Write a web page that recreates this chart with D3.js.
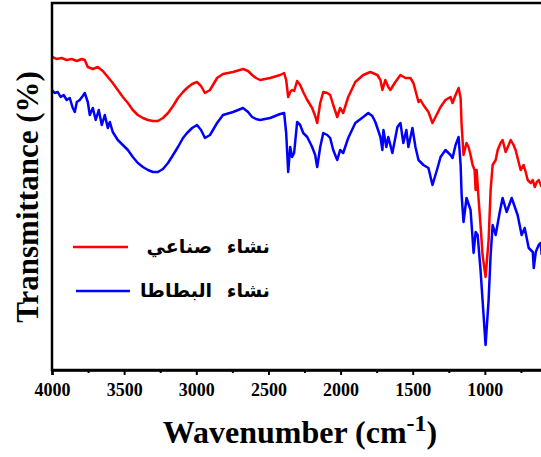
<!DOCTYPE html>
<html>
<head>
<meta charset="utf-8">
<script src="https://cdnjs.cloudflare.com/ajax/libs/d3/7.8.5/d3.min.js"></script>
<style>
  body { margin: 0; background: #fff; }
  svg { display: block; }
</style>
</head>
<body>
<div id="chart"></div>
<script>
///////////////////////////////////////////////////////////////////////////
////////////////////////// FTIR spectra - data ////////////////////////////
///////////////////////////////////////////////////////////////////////////

//Tick values of the wavenumber axis
var majorTicks = [4000, 3500, 3000, 2500, 2000, 1500, 1000],
	minorTicks = [3750, 3250, 2750, 2250, 1750, 1250, 750];

//Legend names (Arabic, as in the figure)
var seriesNames = ["نشاء صناعي", "نشاء البطاطا"];

//Synthetic starch - [wavenumber, transmittance]
var syntheticStarch = [
	[4000,62.6],[3967,62.2],[3933,62.4],[3898,62.0],[3863,62.2],[3828,61.8],[3794,62.2],[3773,62.0],
	[3752,60.6],[3717,60.2],[3683,60.6],[3648,59.8],[3613,58.6],[3579,57.4],[3544,56.0],[3509,54.6],
	[3474,53.4],[3440,52.0],[3405,51.0],[3370,50.4],[3335,50.0],[3300,49.8],[3266,49.8],[3231,50.4],
	[3196,51.4],[3161,52.8],[3127,54.4],[3092,55.6],[3064,56.4],[3029,57.2],[2995,57.6],[2967,56.8],
	[2940,55.4],[2905,56.0],[2856,58.4],[2815,59.2],[2745,59.6],[2676,60.2],[2641,59.8],[2613,59.0],
	[2586,58.4],[2558,58.0],[2523,58.2],[2488,58.4],[2419,59.0],[2391,59.4],[2377,58.0],[2363,54.6],
	[2349,55.6],[2336,56.0],[2322,55.8],[2301,57.8],[2280,57.0],[2259,55.6],[2231,54.0],[2197,52.4],
	[2176,50.8],[2162,49.4],[2141,53.4],[2120,55.6],[2092,55.4],[2072,55.0],[2051,53.0],[2023,50.6],
	[2003,52.4],[1982,51.4],[1947,54.6],[1898,57.6],[1843,59.0],[1794,59.6],[1745,59.0],[1724,58.0],
	[1710,56.0],[1690,58.0],[1669,56.6],[1655,56.0],[1620,57.6],[1585,59.0],[1551,58.4],[1516,58.4],
	[1495,57.4],[1460,53.6],[1446,54.0],[1426,53.0],[1391,51.6],[1363,49.4],[1328,51.4],[1307,52.6],
	[1273,54.0],[1238,54.6],[1224,53.4],[1203,55.0],[1182,56.4],[1168,54.4],[1161,49.0],[1148,43.0],
	[1127,45.4],[1113,44.6],[1099,43.0],[1085,41.0],[1071,40.0],[1064,36.0],[1057,40.0],[1043,34.0],
	[1030,29.0],[1016,23.0],[995,18.6],[974,26.0],[960,36.0],[946,41.0],[925,42.0],[911,44.0],
	[891,45.4],[877,46.0],[856,43.6],[835,45.0],[821,46.0],[801,45.0],[787,44.0],[766,41.6],
	[752,40.0],[731,41.0],[717,39.6],[703,38.0],[682,37.4],[668,38.0],[654,36.6],[640,37.6],
	[627,38.0],[606,36.6]
];

//Potato starch - [wavenumber, transmittance]
var potatoStarch = [
	[4000,56.0],[3981,55.4],[3960,55.6],[3940,54.6],[3919,55.0],[3898,54.0],[3877,54.4],[3856,52.4],
	[3842,51.6],[3828,53.6],[3808,54.0],[3787,54.8],[3773,55.4],[3752,53.6],[3738,51.0],[3717,52.4],
	[3697,50.0],[3676,52.0],[3655,49.0],[3634,51.0],[3613,48.4],[3599,49.6],[3579,47.6],[3544,46.0],
	[3509,45.0],[3474,44.0],[3440,42.6],[3405,41.4],[3370,40.6],[3335,40.0],[3300,39.6],[3266,39.6],
	[3231,40.2],[3196,41.4],[3161,43.0],[3127,44.6],[3092,46.4],[3064,47.4],[3029,48.4],[2995,49.0],
	[2967,48.0],[2940,46.4],[2905,47.0],[2856,49.4],[2815,51.0],[2745,51.6],[2676,52.4],[2641,51.6],
	[2613,50.6],[2586,50.2],[2558,50.0],[2488,50.4],[2419,51.2],[2391,51.4],[2377,47.4],[2363,39.6],
	[2349,44.6],[2336,42.6],[2322,43.4],[2301,49.6],[2280,49.0],[2259,47.4],[2231,46.6],[2197,44.6],
	[2176,43.0],[2162,40.6],[2141,44.6],[2120,47.4],[2092,47.0],[2072,46.4],[2051,44.0],[2023,42.0],
	[2003,44.0],[1982,43.4],[1947,46.4],[1898,49.4],[1843,50.6],[1808,51.4],[1780,50.8],[1759,49.6],
	[1724,46.6],[1710,44.0],[1703,48.0],[1683,44.6],[1669,46.6],[1641,43.4],[1606,48.6],[1585,49.4],
	[1565,45.4],[1544,48.0],[1530,44.6],[1502,48.4],[1481,44.6],[1460,42.0],[1426,41.0],[1391,40.4],
	[1363,37.0],[1328,40.4],[1307,42.6],[1273,44.0],[1238,43.0],[1224,42.4],[1203,45.0],[1182,46.6],
	[1168,41.0],[1161,35.0],[1148,29.6],[1127,34.4],[1099,32.0],[1078,23.4],[1064,27.6],[1050,27.0],
	[1030,20.0],[1016,14.0],[995,5.0],[974,14.0],[960,23.0],[946,29.0],[925,27.0],[898,31.4],
	[877,34.4],[849,31.6],[814,34.4],[773,31.0],[745,27.0],[724,28.4],[696,24.4],[682,24.0],
	[668,23.6],[661,20.4],[647,23.6],[627,25.0],[613,25.4],[606,23.0]
];

var seriesColors = ["#FF0000", "#0000FF"];

///////////////////////////////////////////////////////////////////////////
///////////////////////////// Set up the SVG //////////////////////////////
///////////////////////////////////////////////////////////////////////////

var width = 541,
	height = 457,
	plot = {left: 52, top: 3, right: 557, bottom: 370},
	serif = "'Liberation Serif', 'Times New Roman', serif";

var svg = d3.select("#chart").append("svg")
	.attr("width", width)
	.attr("height", height);

//Reversed wavenumber axis, as usual for IR spectra
var x = d3.scaleLinear()
	.domain([4000, 500])
	.range([plot.left, plot.right]);

var y = d3.scaleLinear()
	.domain([0, 73.4])
	.range([plot.bottom, plot.top]);

svg.append("clipPath")
	.attr("id", "plotClip")
  .append("rect")
	.attr("x", plot.left)
	.attr("y", plot.top)
	.attr("width", plot.right - plot.left)
	.attr("height", plot.bottom - plot.top);

///////////////////////////////////////////////////////////////////////////
////////////////////////////// Draw spectra ///////////////////////////////
///////////////////////////////////////////////////////////////////////////

var line = d3.line()
	.x(function(d) { return x(d[0]); })
	.y(function(d) { return y(d[1]); });

svg.append("g")
	.attr("clip-path", "url(#plotClip)")
	.selectAll(".spectrum")
	.data([syntheticStarch, potatoStarch])
	.enter().append("path")
	.attr("class", "spectrum")
	.attr("d", line)
	.style("fill", "none")
	.style("stroke", function(d,i) { return seriesColors[i]; })
	.style("stroke-width", 2.5)
	.style("stroke-linejoin", "round");

///////////////////////////////////////////////////////////////////////////
///////////////////////////////// Axes ////////////////////////////////////
///////////////////////////////////////////////////////////////////////////

//Frame (left, top, bottom; right side falls outside the picture)
svg.append("rect")
	.attr("x", plot.left)
	.attr("y", plot.top)
	.attr("width", plot.right - plot.left)
	.attr("height", plot.bottom - plot.top)
	.style("fill", "none")
	.style("stroke", "#000")
	.style("stroke-width", 2.5);

var xAxis = svg.append("g")
	.attr("transform", "translate(0," + plot.bottom + ")")
	.call(d3.axisBottom(x).tickValues(majorTicks).tickSize(5).tickPadding(8).tickFormat(d3.format("d")));

svg.append("g")
	.attr("transform", "translate(0," + plot.bottom + ")")
	.call(d3.axisBottom(x).tickValues(minorTicks).tickSize(3).tickFormat(""))
	.select(".domain").remove();

xAxis.select(".domain").style("stroke-width", 2.5);
svg.selectAll(".tick line").style("stroke-width", 2);
xAxis.selectAll("text")
	.style("font-family", serif)
	.style("font-weight", "bold")
	.style("font-size", "18px")
	.attr("fill", "#000");

//Axis titles
var xTitle = svg.append("text")
	.attr("x", 300)
	.attr("y", 443)
	.style("text-anchor", "middle")
	.style("font-family", serif)
	.style("font-weight", "bold")
	.style("font-size", "32px");
xTitle.append("tspan").text("Wavenumber (cm");
xTitle.append("tspan").attr("dy", -12).style("font-size", "24px").text("-1");
xTitle.append("tspan").attr("dy", 12).text(")");

svg.append("text")
	.attr("transform", "translate(38," + 197 + ") rotate(-90)")
	.style("text-anchor", "middle")
	.style("font-family", serif)
	.style("font-weight", "bold")
	.style("font-size", "31px")
	.text("Transmittance (%)");

///////////////////////////////////////////////////////////////////////////
//////////////////////////////// Legend ///////////////////////////////////
///////////////////////////////////////////////////////////////////////////

var legend = svg.selectAll(".legendItem")
	.data(seriesNames)
	.enter().append("g")
	.attr("class", "legendItem")
	.attr("transform", function(d,i) { return "translate(0," + (247 + i * 44) + ")"; });

legend.append("line")
	.attr("x1", function(d,i) { return 73 + i * 3; })
	.attr("x2", function(d,i) { return 128 + i * 2; })
	.style("stroke", function(d,i) { return seriesColors[i]; })
	.style("stroke-width", 2.5);

legend.append("text")
	.attr("x", 270)
	.attr("dy", "0.3em")
	.style("text-anchor", "end")
	.style("font-family", "'DejaVu Sans', sans-serif")
	.style("font-weight", "bold")
	.style("font-size", "19px")
	.style("word-spacing", "8px")
	.text(function(d) { return d; });
</script>
</body>
</html>
